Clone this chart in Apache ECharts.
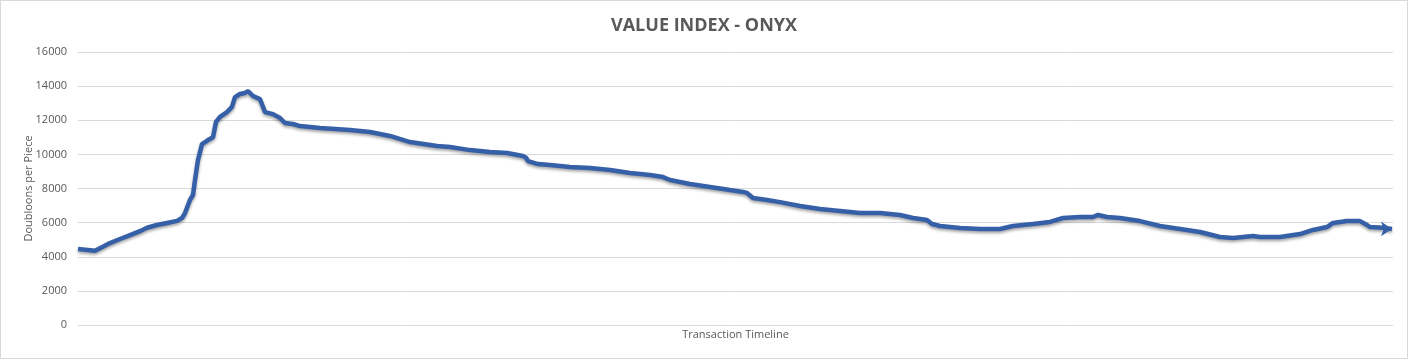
<!DOCTYPE html>
<html>
<head>
<meta charset="utf-8">
<script src="https://cdn.jsdelivr.net/npm/echarts@6/dist/echarts.min.js"></script>
<style>
html,body{margin:0;padding:0;background:#fff;}
#c{width:1406px;height:357px;border:1px solid #d9d9d9;}
</style>
</head>
<body>
<div id="c"></div>
<script>
const titleText = "VALUE INDEX - ONYX";
const yAxisName = "Doubloons per Piece";
const xAxisName = "Transaction Timeline";
const transactionIndex = [0,2,17,22,32,42,52,62,69,79,89,99,104,107,112,115,117,120,124,130,135,138,142,149,154,157,162,167,170,175,182,187,195,202,207,215,222,242,272,292,312,332,359,372,392,412,429,445,448,450,460,472,492,512,532,552,572,585,592,612,632,652,665,669,675,689,702,722,742,762,782,802,822,835,849,854,862,882,902,922,935,955,972,985,1002,1015,1020,1029,1042,1062,1082,1102,1122,1142,1155,1175,1182,1202,1222,1235,1249,1255,1269,1282,1289,1292,1305,1314];
const doubloons = [4450,4350,4350,4500,4800,5040,5270,5500,5700,5860,5980,6100,6270,6560,7330,7620,8500,9670,10600,10840,11000,11900,12200,12480,12780,13360,13540,13600,13710,13420,13240,12480,12360,12130,11840,11780,11660,11550,11430,11310,11080,10720,10490,10430,10250,10140,10080,9900,9800,9610,9430,9380,9260,9200,9080,8910,8790,8670,8500,8260,8090,7910,7800,7740,7440,7330,7200,6970,6800,6680,6560,6560,6450,6270,6150,5920,5800,5680,5630,5630,5800,5920,6040,6270,6330,6330,6450,6330,6270,6090,5800,5630,5450,5160,5100,5220,5160,5160,5330,5570,5740,5980,6090,6090,5860,5740,5700,5630];
const yTicks = [0,2000,4000,6000,8000,10000,12000,14000,16000];

const data = transactionIndex.map((x,i)=>[x,doubloons[i]]);
const last = data.length-1;
const seriesData = data.map((d,i)=> i===last ? {value:d, symbol:'arrow', symbolSize:[11,11], symbolRotate:-90} : {value:d});

const chart = echarts.init(document.getElementById('c'));
chart.setOption({
  animation:false,
  title:{text:titleText,left:'center',top:11,
    textStyle:{fontFamily:'Open Sans',fontSize:18,fontWeight:'bold',color:'#595959'}},
  grid:{left:77,right:14,top:51,bottom:33},
  xAxis:{type:'value',min:0,max:1315,
    name:xAxisName,nameLocation:'middle',nameGap:4,
    nameTextStyle:{fontFamily:'Open Sans',fontSize:11,color:'#595959'},
    axisLine:{show:false},axisTick:{show:false},axisLabel:{show:false},splitLine:{show:false}},
  yAxis:{type:'value',min:yTicks[0],max:yTicks[yTicks.length-1],interval:2000,
    name:yAxisName,nameLocation:'middle',nameGap:44,nameMoveOverlap:false,
    nameTextStyle:{fontFamily:'Open Sans',fontSize:11,color:'#595959'},
    axisLine:{show:false},axisTick:{show:false},
    axisLabel:{fontFamily:'Open Sans',fontSize:11,color:'#595959',margin:11,formatter:v=>String(v)},
    splitLine:{lineStyle:{color:'#d9d9d9',width:1}}},
  series:[{type:'line',data:seriesData,showSymbol:true,symbol:'none',
    lineStyle:{color:'#3560a8',width:4.5,shadowBlur:3,shadowOffsetY:2,shadowColor:'rgba(0,0,0,0.35)'},
    itemStyle:{color:'#3560a8'}}]
});
</script>
</body>
</html>
